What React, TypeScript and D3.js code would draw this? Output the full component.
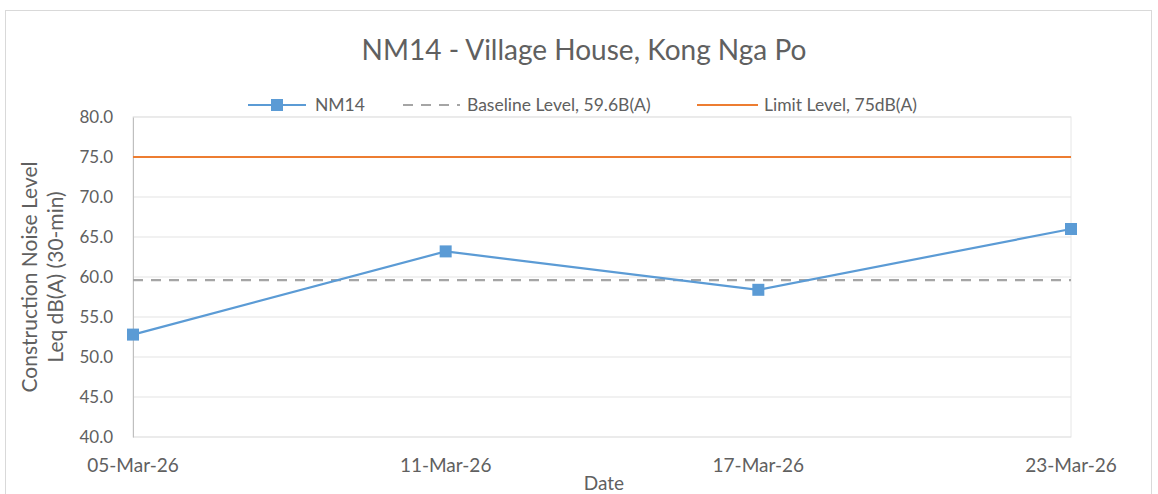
import React, { useEffect, useRef } from "react";
import * as d3 from "d3";

const dates = ["2026-03-05", "2026-03-11", "2026-03-17", "2026-03-23"];
const dateLabels = ["05-Mar-26", "11-Mar-26", "17-Mar-26", "23-Mar-26"];
const nm14 = [52.8, 63.2, 58.4, 66.0];
const baselineLevel = 59.6;
const limitLevel = 75;
const yTicks = [40, 45, 50, 55, 60, 65, 70, 75, 80];

const App = () => {
  const svgRef = useRef<SVGSVGElement>(null);

  useEffect(() => {
    const svg = d3.select(svgRef.current);
    svg.selectAll("*").remove();

    const width = 1158;
    const height = 494;
    const margin = { top: 117, right: 87, bottom: 57, left: 133 };
    const font = "Lato, 'Open Sans', sans-serif";
    const textColor = "#606060";

    svg.attr("width", width).attr("height", height);

    // chart border
    svg.append("rect")
      .attr("x", 5.5).attr("y", 10.5)
      .attr("width", 1146).attr("height", 495)
      .attr("fill", "#fff").attr("stroke", "#d9d9d9");

    const parse = d3.timeParse("%Y-%m-%d");
    const xDates = dates.map(d => parse(d) as Date);

    const x = d3.scaleTime()
      .domain([xDates[0], xDates[xDates.length - 1]])
      .range([margin.left, width - margin.right]);

    const y = d3.scaleLinear()
      .domain([40, 80])
      .range([height - margin.bottom, margin.top]);

    // plot area border
    svg.append("rect")
      .attr("x", margin.left).attr("y", margin.top)
      .attr("width", width - margin.right - margin.left)
      .attr("height", height - margin.bottom - margin.top)
      .attr("fill", "none").attr("stroke", "#e6e6e6");

    // gridlines
    svg.append("g")
      .selectAll("line")
      .data(yTicks)
      .enter().append("line")
      .attr("x1", margin.left).attr("x2", width - margin.right)
      .attr("y1", d => y(d)).attr("y2", d => y(d))
      .attr("stroke", "#e3e3e3").attr("stroke-width", 1);

    // y axis
    const yAxis = svg.append("g")
      .attr("transform", `translate(${margin.left},0)`)
      .call(d3.axisLeft(y).tickValues(yTicks).tickFormat(d3.format(".1f")).tickSize(0).tickPadding(20));
    yAxis.select(".domain").attr("stroke", "#bfbfbf");
    yAxis.selectAll("text")
      .attr("fill", textColor).style("font-family", font).style("font-size", "17px");

    // x axis labels
    svg.append("g")
      .selectAll("text")
      .data(xDates)
      .enter().append("text")
      .attr("x", d => x(d))
      .attr("y", height - margin.bottom + 35)
      .attr("text-anchor", "middle")
      .attr("fill", textColor)
      .style("font-family", font).style("font-size", "19px")
      .text((d, i) => dateLabels[i]);

    // limit level
    svg.append("line")
      .attr("x1", margin.left).attr("x2", width - margin.right)
      .attr("y1", y(limitLevel)).attr("y2", y(limitLevel))
      .attr("stroke", "#ed7d31").attr("stroke-width", 2.2);

    // baseline level
    svg.append("line")
      .attr("x1", margin.left).attr("x2", width - margin.right)
      .attr("y1", y(baselineLevel)).attr("y2", y(baselineLevel))
      .attr("stroke", "#a5a5a5").attr("stroke-width", 2.2)
      .attr("stroke-dasharray", "10,8");

    // NM14 series
    const line = d3.line<number>()
      .x((d, i) => x(xDates[i]))
      .y(d => y(d));

    svg.append("path")
      .datum(nm14)
      .attr("d", line)
      .attr("fill", "none")
      .attr("stroke", "#5b9bd5")
      .attr("stroke-width", 2.2);

    svg.append("g")
      .selectAll("rect")
      .data(nm14)
      .enter().append("rect")
      .attr("x", (d, i) => x(xDates[i]) - 6)
      .attr("y", d => y(d) - 6)
      .attr("width", 12).attr("height", 12)
      .attr("fill", "#5b9bd5");

    // title
    svg.append("text")
      .attr("x", 584).attr("y", 60)
      .attr("text-anchor", "middle")
      .attr("fill", textColor)
      .style("font-family", font).style("font-size", "28px")
      .text("NM14 - Village House, Kong Nga Po");

    // legend
    const legY = 105;
    const leg = svg.append("g").style("font-family", font).style("font-size", "17.5px");
    leg.append("line").attr("x1", 248).attr("x2", 306).attr("y1", legY).attr("y2", legY)
      .attr("stroke", "#5b9bd5").attr("stroke-width", 2.2);
    leg.append("rect").attr("x", 271).attr("y", legY - 6).attr("width", 12).attr("height", 12)
      .attr("fill", "#5b9bd5");
    leg.append("text").attr("x", 315).attr("y", legY + 6).attr("fill", textColor).text("NM14");

    leg.append("line").attr("x1", 403).attr("x2", 460).attr("y1", legY).attr("y2", legY)
      .attr("stroke", "#a5a5a5").attr("stroke-width", 2.2).attr("stroke-dasharray", "10,8");
    leg.append("text").attr("x", 467).attr("y", legY + 6).attr("fill", textColor)
      .text("Baseline Level, 59.6B(A)");

    leg.append("line").attr("x1", 697).attr("x2", 758).attr("y1", legY).attr("y2", legY)
      .attr("stroke", "#ed7d31").attr("stroke-width", 2.2);
    leg.append("text").attr("x", 764).attr("y", legY + 6).attr("fill", textColor)
      .text("Limit Level, 75dB(A)");

    // axis titles
    const yTitle = svg.append("text")
      .attr("transform", `translate(37,277) rotate(-90)`)
      .attr("text-anchor", "middle")
      .attr("fill", textColor)
      .style("font-family", font).style("font-size", "21px");
    yTitle.append("tspan").attr("x", 0).attr("dy", 0).text("Construction Noise Level");
    yTitle.append("tspan").attr("x", 0).attr("dy", 26).text("Leq dB(A) (30-min)");

    svg.append("text")
      .attr("x", 604).attr("y", 490)
      .attr("text-anchor", "middle")
      .attr("fill", textColor)
      .style("font-family", font).style("font-size", "19px")
      .text("Date");
  }, []);

  return <svg ref={svgRef} style={{ position: "absolute", left: 0, top: 0 }}></svg>;
};

export default App;
